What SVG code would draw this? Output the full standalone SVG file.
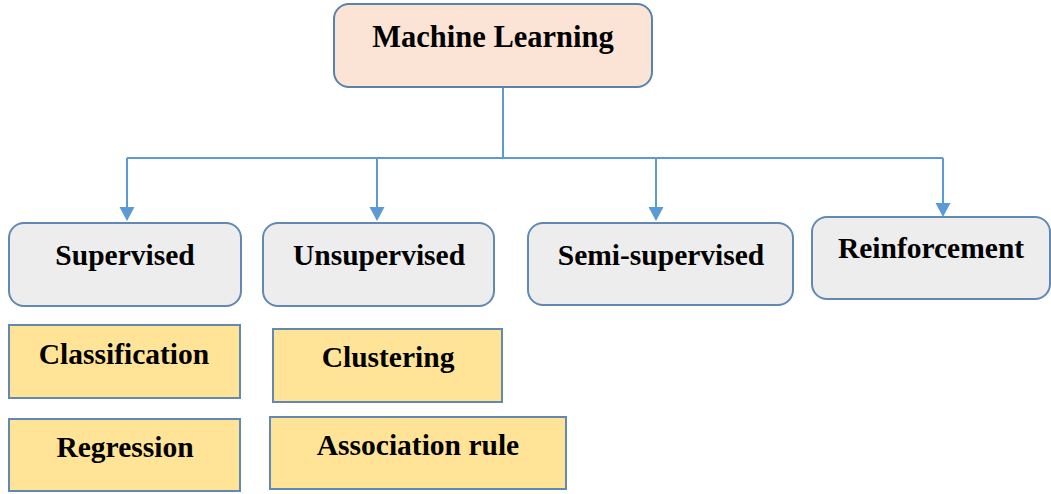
<svg xmlns="http://www.w3.org/2000/svg" width="1051" height="494" viewBox="0 0 1051 494">
  <style>
    .root { fill: #FBE4D6; stroke: #5A82AD; stroke-width: 2; }
    .cat { fill: #EDEDED; stroke: #6189B4; stroke-width: 2; }
    .sub { fill: #FFE497; stroke: #6189B4; stroke-width: 2; }
    .lbl { font-family: "Liberation Serif", "Times New Roman", serif; font-weight: bold; font-size: 29.5px; fill: #000; text-anchor: middle; }
    .big { font-size: 30.5px; }
    .link { fill: none; stroke: #5B9BD5; stroke-width: 2; }
    .head { fill: #5B9BD5; }
  </style>

  <rect width="1051" height="494" fill="#FFFFFF"/>

  <!-- connectors: trunk, bus and four drops with arrowheads -->
  <g id="connectors">
    <path class="link" d="M503 87 V158"/>
    <path class="link" d="M127 158 H943"/>
    <path class="link" d="M127 158 V208"/>
    <path class="link" d="M377 158 V208"/>
    <path class="link" d="M656 158 V208"/>
    <path class="link" d="M943 158 V204"/>
    <path class="head" d="M119.5 207 H134.5 L127 221 Z"/>
    <path class="head" d="M369.5 207 H384.5 L377 221 Z"/>
    <path class="head" d="M648.5 207 H663.5 L656 221 Z"/>
    <path class="head" d="M935.5 203 H950.5 L943 217 Z"/>
  </g>

  <g id="machine-learning">
    <rect class="root" x="334" y="4" width="318" height="83" rx="15"/>
    <text class="lbl big" x="493" y="47">Machine Learning</text>
  </g>

  <g id="supervised">
    <rect class="cat" x="9" y="223" width="232" height="83" rx="15"/>
    <text class="lbl" x="125" y="265">Supervised</text>
  </g>

  <g id="unsupervised">
    <rect class="cat" x="263" y="223" width="231" height="83" rx="15"/>
    <text class="lbl" x="379" y="265">Unsupervised</text>
  </g>

  <g id="semi-supervised">
    <rect class="cat" x="528" y="223" width="265" height="82" rx="15"/>
    <text class="lbl" x="661" y="265">Semi-supervised</text>
  </g>

  <g id="reinforcement">
    <rect class="cat" x="812" y="217" width="238" height="82" rx="15"/>
    <text class="lbl" x="931" y="258">Reinforcement</text>
  </g>

  <g id="classification">
    <rect class="sub" x="9" y="325" width="231" height="73"/>
    <text class="lbl" x="124" y="364">Classification</text>
  </g>

  <g id="regression">
    <rect class="sub" x="9" y="419" width="231" height="72"/>
    <text class="lbl" x="125" y="457">Regression</text>
  </g>

  <g id="clustering">
    <rect class="sub" x="273" y="329" width="229" height="73"/>
    <text class="lbl" x="388" y="367">Clustering</text>
  </g>

  <g id="association-rule">
    <rect class="sub" x="270" y="417" width="296" height="72"/>
    <text class="lbl" x="418" y="455">Association rule</text>
  </g>
</svg>
